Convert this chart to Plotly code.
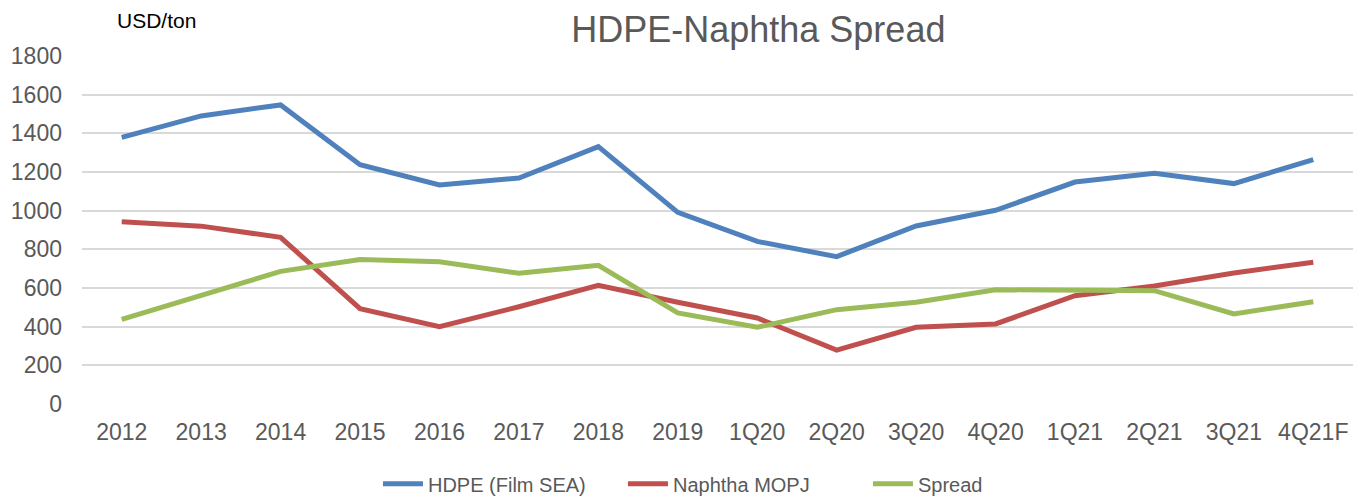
import plotly.graph_objects as go

categories = ["2012", "2013", "2014", "2015", "2016", "2017", "2018", "2019",
              "1Q20", "2Q20", "3Q20", "4Q20", "1Q21", "2Q21", "3Q21", "4Q21F"]
hdpe = [1379, 1490, 1547, 1238, 1133, 1169, 1331, 991,
        841, 762, 921, 1002, 1148, 1193, 1140, 1264]
naphtha = [943, 920, 862, 493, 400, 503, 614, 526,
           445, 279, 397, 414, 560, 610, 678, 733]
spread = [438, 564, 686, 747, 736, 676, 717, 471,
          397, 488, 526, 591, 588, 586, 466, 529]
y_ticks = [0, 200, 400, 600, 800, 1000, 1200, 1400, 1600, 1800]

series = [
    ("HDPE (Film SEA)", hdpe, "#4f81bd"),
    ("Naphtha MOPJ", naphtha, "#c0504d"),
    ("Spread", spread, "#9bbb59"),
]

fig = go.Figure()
for name, vals, color in series:
    fig.add_trace(go.Scatter(
        x=categories, y=vals, name=name, mode="lines",
        line=dict(color=color, width=5),
    ))

fig.update_layout(
    width=1363, height=500,
    margin=dict(l=74, r=18, t=48, b=104, autoexpand=False),
    paper_bgcolor="white", plot_bgcolor="white",
    font=dict(family="Liberation Sans, Arial, sans-serif", color="#595959"),
    title=dict(text="HDPE-Naphtha Spread", x=0.5505, xanchor="center",
               y=0.958, yanchor="middle", yref="container",
               font=dict(size=36, color="#595959", family="Liberation Sans, Arial, sans-serif")),
    showlegend=True,
    legend=dict(orientation="h", x=0.522, xanchor="center", y=-0.173, yanchor="top",
                font=dict(size=20, color="#595959",
                          family="Liberation Sans Narrow, Liberation Sans, Arial, sans-serif"),
                itemwidth=40, tracegroupgap=0, entrywidth=190, entrywidthmode="pixels"),
    xaxis=dict(type="category", showgrid=False, zeroline=False, showline=False,
               ticks="", tickfont=dict(size=23, color="#595959"), automargin=False,
               ticklabelstandoff=12,
               range=[-0.5, len(categories) - 0.5], fixedrange=True),
    yaxis=dict(range=[0, 1800], tickvals=y_ticks, showgrid=True, automargin=False,
               gridcolor="#d9d9d9", gridwidth=1.5, zeroline=False, showline=False,
               ticks="", tickfont=dict(size=23, color="#595959"), ticklabelstandoff=19),
    annotations=[dict(text="USD/ton", xref="paper", yref="paper", x=0.026, y=1.103,
                      xanchor="left", yanchor="middle", showarrow=False,
                      font=dict(size=21, color="#000000"))],
)

fig.write_html("out.html")
